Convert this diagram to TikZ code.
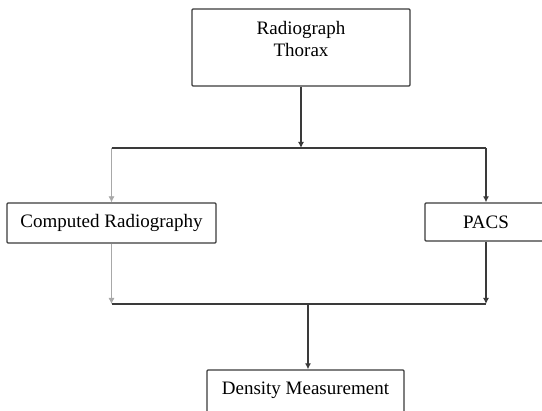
\documentclass[tikz,border=0pt]{standalone}
\usepackage{fontspec}
\setmainfont{Liberation Serif}
\usetikzlibrary{arrows.meta}
\definecolor{linegray}{HTML}{3A3A3A}
\definecolor{palegray}{HTML}{A8A8A8}
\tikzset{
  box/.style={draw=linegray, line width=1.3pt, rounded corners=1pt,
    font=\fontsize{19}{22}\selectfont, text=black, inner sep=0pt},
  link/.style={line width=1.2pt, linegray},
  thinlink/.style={line width=0.8pt, palegray},
}
\begin{document}
\begin{tikzpicture}[x=1pt,y=-1pt,>={Latex[length=6pt,width=6pt]}]
    \useasboundingbox (0,0) rectangle (542,411);
    \clip (0,0) rectangle (542,411);
    % Boxes
    \node[box, align=center, minimum width=218pt, minimum height=77pt, text depth=18pt] (xray) at (301,47.5) {Radiograph\\Thorax};
    \node[box, minimum width=209pt, minimum height=40pt] (cr) at (111.5,223) {Computed Radiography};
    \node[box, minimum width=122pt, minimum height=38pt] (pacs) at (486,222) {PACS};
    \node[box, minimum width=197pt, minimum height=50pt, text depth=14pt] (density) at (305.5,395) {Density Measurement};
    % Split
    \coordinate (split) at (301,148);
    \draw[->,link] (xray.south) to (split);
    \draw[link] (cr.north |- split) to (pacs.north |- split);
    \draw[->,thinlink] (cr.north |- split) to (cr.north);
    \draw[->,link] (pacs.north |- split) to (pacs.north);
    % Merge
    \coordinate (merge) at (308,304);
    \draw[->,thinlink] (cr.south) to (cr.south |- merge);
    \draw[->,link] (pacs.south) to (pacs.south |- merge);
    \draw[link] (cr.south |- merge) to (pacs.south |- merge);
    \draw[->,link] (merge) to (merge |- density.north);
\end{tikzpicture}
\end{document}
